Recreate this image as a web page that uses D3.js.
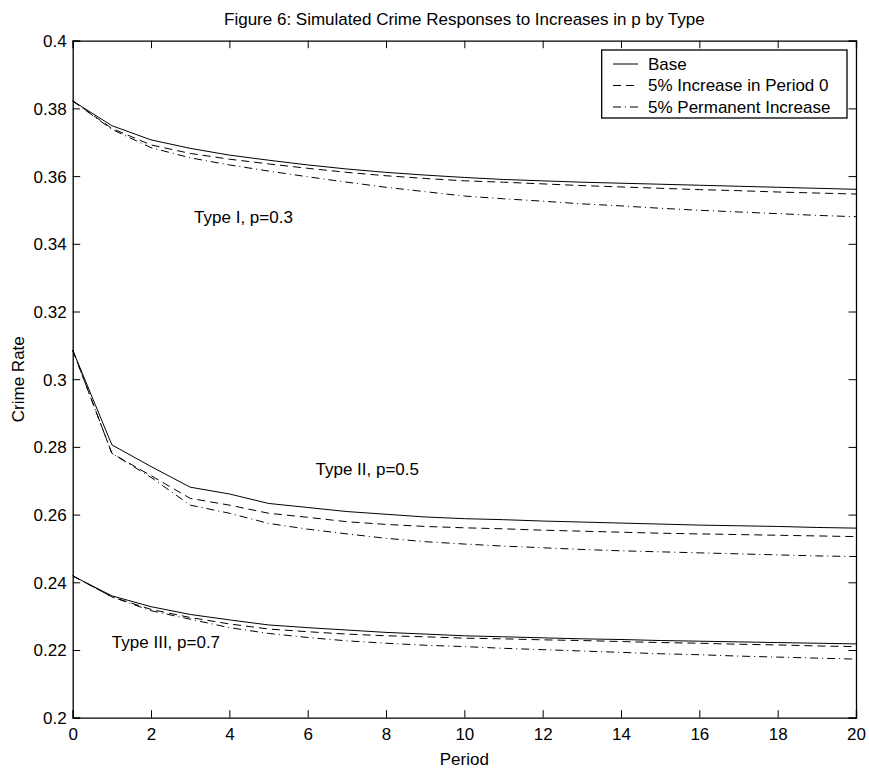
<!DOCTYPE html>
<html><head><meta charset="utf-8">
<script src="https://cdn.jsdelivr.net/npm/d3@7"></script>
<style>body{margin:0;background:#fff}svg{display:block}text{font-family:"Liberation Sans",Arial,Helvetica,sans-serif;fill:#000}</style>
</head><body><div id="chart"></div>
<script>
const periods = d3.range(0, 21);
const seriesNames = ["Base", "5% Increase in Period 0", "5% Permanent Increase"];
const typeLabels = ["Type I, p=0.3", "Type II, p=0.5", "Type III, p=0.7"];
const xTicks = [0,2,4,6,8,10,12,14,16,18,20];
const yTicks = [0.2,0.22,0.24,0.26,0.28,0.3,0.32,0.34,0.36,0.38,0.4];

const typeI_base   = [0.3822,0.3749,0.3707,0.3682,0.3662,0.3647,0.3633,0.3621,0.3611,0.3603,0.3596,0.3590,0.3586,0.3582,0.3579,0.3576,0.3573,0.3570,0.3567,0.3564,0.3561];
const typeI_once   = [0.3822,0.3741,0.3692,0.3667,0.3650,0.3636,0.3623,0.3611,0.3601,0.3593,0.3586,0.3582,0.3577,0.3572,0.3568,0.3564,0.3560,0.3557,0.3553,0.3550,0.3547];
const typeI_perm   = [0.3822,0.3738,0.3684,0.3654,0.3633,0.3615,0.3598,0.3582,0.3567,0.3554,0.3541,0.3533,0.3526,0.3518,0.3512,0.3505,0.3499,0.3494,0.3489,0.3484,0.3480];
const typeII_base  = [0.3086,0.2806,0.2742,0.2681,0.2661,0.2633,0.2621,0.2609,0.2601,0.2593,0.2588,0.2585,0.2581,0.2578,0.2575,0.2572,0.2569,0.2567,0.2565,0.2562,0.2560];
const typeII_once  = [0.3086,0.2781,0.2715,0.2648,0.2628,0.2604,0.2592,0.2579,0.2571,0.2565,0.2561,0.2558,0.2554,0.2551,0.2548,0.2545,0.2543,0.2541,0.2539,0.2537,0.2535];
const typeII_perm  = [0.3086,0.2781,0.2710,0.2628,0.2604,0.2574,0.2557,0.2543,0.2530,0.2520,0.2513,0.2507,0.2502,0.2497,0.2493,0.2490,0.2487,0.2484,0.2481,0.2478,0.2476];
const typeIII_base = [0.2419,0.2360,0.2328,0.2305,0.2289,0.2274,0.2266,0.2259,0.2252,0.2247,0.2242,0.2239,0.2236,0.2233,0.2231,0.2228,0.2226,0.2224,0.2222,0.2220,0.2218];
const typeIII_once = [0.2419,0.2357,0.2320,0.2296,0.2277,0.2262,0.2254,0.2247,0.2242,0.2239,0.2235,0.2233,0.2230,0.2228,0.2225,0.2222,0.2220,0.2217,0.2215,0.2212,0.2210];
const typeIII_perm = [0.2419,0.2357,0.2316,0.2291,0.2266,0.2249,0.2237,0.2227,0.2220,0.2214,0.2210,0.2205,0.2201,0.2197,0.2193,0.2189,0.2186,0.2182,0.2179,0.2176,0.2173];

const W = 869, H = 770;
const m = {left: 72.7, right: 856, top: 40.7, bottom: 717.7};
const dashes = [null, "8,5", "8,4,1,4"];
const FS = 17;

const svg = d3.select("#chart").append("svg").attr("width", W).attr("height", H);
const x = d3.scaleLinear().domain([0, 20]).range([m.left, m.right]);
const y = d3.scaleLinear().domain([0.2, 0.4]).range([m.bottom, m.top]);

const groups = [
  [typeI_base, typeI_once, typeI_perm],
  [typeII_base, typeII_once, typeII_perm],
  [typeIII_base, typeIII_once, typeIII_perm]
];
const line = d3.line().x((d, i) => x(periods[i])).y(d => y(d));
groups.forEach(g => g.forEach((s, k) => {
  svg.append("path").datum(s).attr("d", line).attr("fill", "none")
    .attr("stroke", "#000").attr("stroke-width", 1)
    .attr("stroke-dasharray", dashes[k]);
}));

// axes (ticks inward, mirrored)
const tl = 7.5;
const fmtY = d => d3.format("")(+d.toFixed(2));
const axB = svg.append("g").attr("transform", `translate(0,${m.bottom})`)
  .call(d3.axisBottom(x).tickValues(xTicks).tickSize(-tl).tickPadding(10.5).tickFormat(d3.format("d")));
const axT = svg.append("g").attr("transform", `translate(0,${m.top})`)
  .call(d3.axisTop(x).tickValues(xTicks).tickSize(-tl).tickFormat(""));
const axL = svg.append("g").attr("transform", `translate(${m.left},0)`)
  .call(d3.axisLeft(y).tickValues(yTicks).tickSize(-tl).tickPadding(6).tickFormat(fmtY));
const axR = svg.append("g").attr("transform", `translate(${m.right},0)`)
  .call(d3.axisRight(y).tickValues(yTicks).tickSize(-tl).tickFormat(""));
[axB, axT, axL, axR].forEach(a => {
  a.select(".domain").attr("stroke", "#000").attr("stroke-width", 1.3);
  a.selectAll(".tick line").attr("stroke", "#000").attr("stroke-width", 1);
  a.selectAll("text").attr("font-size", FS).attr("font-family", '"Liberation Sans",Arial,sans-serif').attr("fill", "#000");
});
axL.selectAll(".tick text").attr("dy", "0.35em");

// title and labels
svg.append("text").attr("x", (m.left + m.right) / 2).attr("y", 25).attr("text-anchor", "middle")
  .attr("font-size", FS).text("Figure 6: Simulated Crime Responses to Increases in p by Type");
svg.append("text").attr("x", (m.left + m.right) / 2).attr("y", 765).attr("text-anchor", "middle")
  .attr("font-size", FS).text("Period");
svg.append("text").attr("transform", `translate(24,${(m.top + m.bottom) / 2}) rotate(-90)`)
  .attr("text-anchor", "middle").attr("font-size", FS).text("Crime Rate");

// type annotations (anchored at data coordinates)
const annPos = [[3.1, 0.3462], [6.2, 0.2716], [1.0, 0.2206]];
typeLabels.forEach((t, i) => {
  svg.append("text").attr("x", x(annPos[i][0])).attr("y", y(annPos[i][1]))
    .attr("font-size", FS).text(t);
});

// legend
const lg = svg.append("g");
lg.append("rect").attr("x", 601.7).attr("y", 50).attr("width", 245.3).attr("height", 68)
  .attr("fill", "#fff").attr("stroke", "#000").attr("stroke-width", 1.3);
seriesNames.forEach((n, i) => {
  const cy = 64 + i * 21.5;
  lg.append("line").attr("x1", 613).attr("x2", 638).attr("y1", cy).attr("y2", cy)
    .attr("stroke", "#000").attr("stroke-width", 1).attr("stroke-dasharray", dashes[i]);
  lg.append("text").attr("x", 648).attr("y", cy).attr("dy", "0.35em").attr("font-size", FS).text(n);
});
</script></body></html>
